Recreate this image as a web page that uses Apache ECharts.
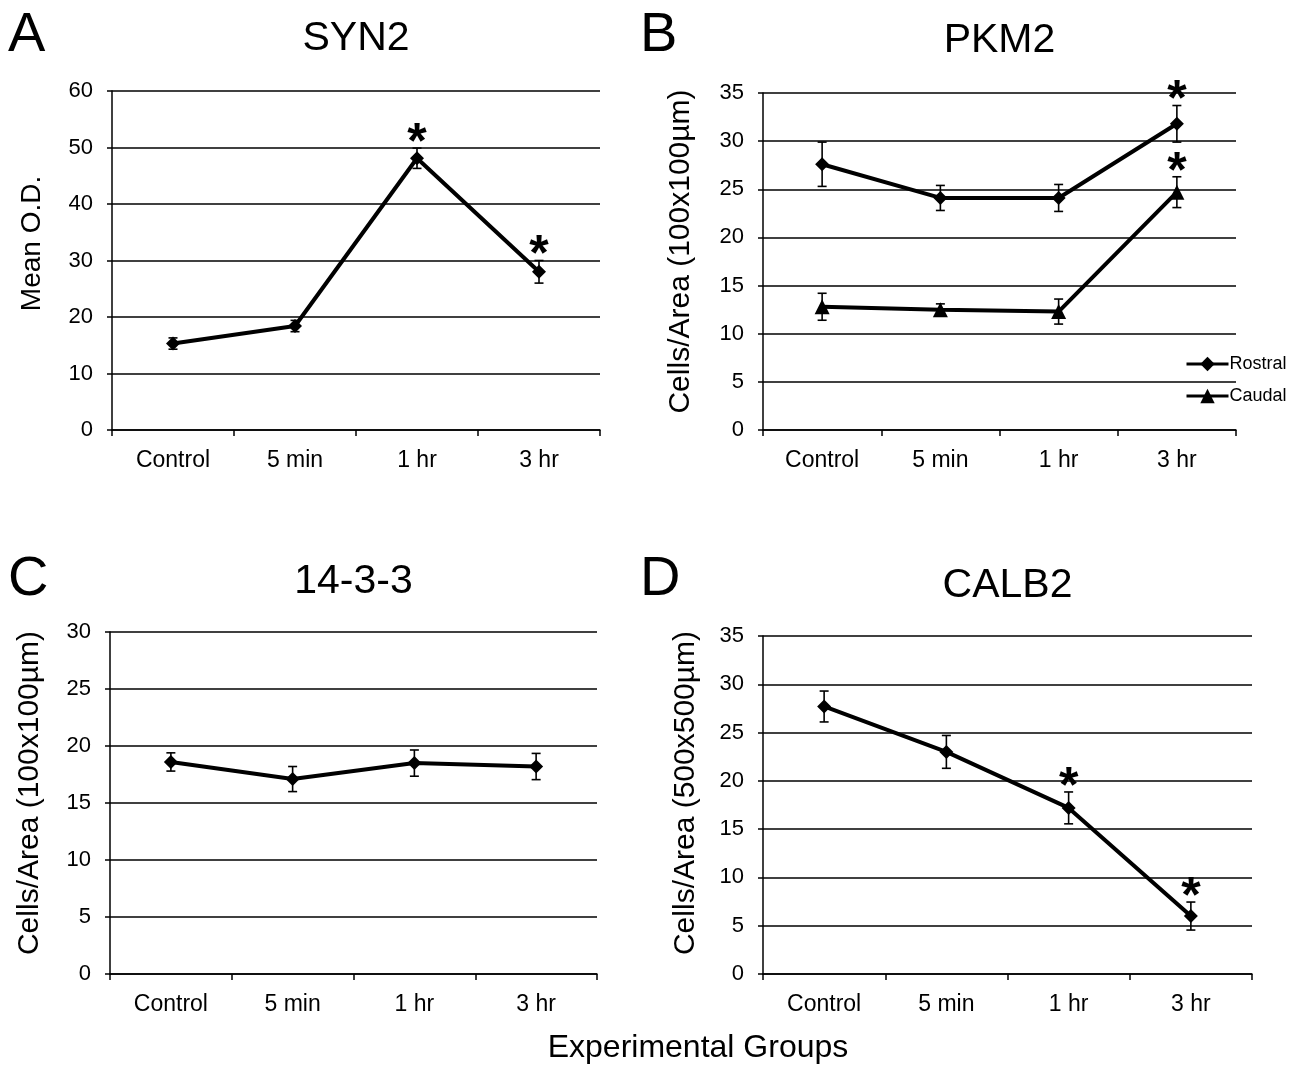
<!DOCTYPE html>
<html>
<head>
<meta charset="utf-8">
<script src="https://cdn.jsdelivr.net/npm/echarts@6/dist/echarts.min.js"></script>
<style>
html,body{margin:0;padding:0;background:#fff;}
#c{width:1298px;height:1065px;}
</style>
</head>
<body>
<div id="c"></div>
<script>
// ---- data ----
const categories = ['Control', '5 min', '1 hr', '3 hr'];

const syn2Mean = [15.3, 18.4, 48.1, 28.0];
const syn2Err  = [1.0, 1.0, 1.8, 2.0];
const syn2Sig  = [0, 0, 1, 1];

const pkm2RostralMean = [27.6, 24.1, 24.1, 31.8];
const pkm2RostralErr  = [2.3, 1.3, 1.4, 1.9];
const pkm2RostralSig  = [0, 0, 0, 1];

const pkm2CaudalMean = [12.8, 12.5, 12.3, 24.7];
const pkm2CaudalErr  = [1.4, 0.6, 1.3, 1.6];
const pkm2CaudalSig  = [0, 0, 0, 1];

const p1433Mean = [18.6, 17.1, 18.5, 18.2];
const p1433Err  = [0.8, 1.1, 1.15, 1.15];
const p1433Sig  = [0, 0, 0, 0];

const calb2Mean = [27.7, 23.0, 17.2, 6.0];
const calb2Err  = [1.6, 1.7, 1.65, 1.45];
const calb2Sig  = [0, 0, 1, 1];

const yTicksA = {min: 0, max: 60, interval: 10};
const yTicksB = {min: 0, max: 35, interval: 5};
const yTicksC = {min: 0, max: 30, interval: 5};
const yTicksD = {min: 0, max: 35, interval: 5};

const titles = ['SYN2', 'PKM2', '14-3-3', 'CALB2'];
const panelLetters = ['A', 'B', 'C', 'D'];
const yNames = ['Mean O.D.', 'Cells/Area (100x100\u00b5m)', 'Cells/Area (100x100\u00b5m)', 'Cells/Area (500x500\u00b5m)'];
const xName = 'Experimental Groups';

// ---- layout ----
const FONT = '"Liberation Sans", Arial, Helvetica, sans-serif';
const grids = [
  {left: 112, top: 91, width: 488, height: 339},
  {left: 763, top: 93, width: 473, height: 337},
  {left: 110, top: 632, width: 487, height: 342},
  {left: 763, top: 636, width: 489, height: 338}
];
const yTicks = [yTicksA, yTicksB, yTicksC, yTicksD];
const nameGaps = [66, 67, 65, 62];
const nameSizes = [28, 30, 30, 30];
const nameShiftPad = [34, 20, 20, 24];

const axisLineStyle = {color: '#000', width: 1.5};

const xAxes = grids.map((g, i) => ({
  type: 'category', gridIndex: i, data: categories, boundaryGap: true,
  axisLine: {show: true, lineStyle: axisLineStyle},
  axisTick: {show: true, length: 6, lineStyle: axisLineStyle},
  axisLabel: {color: '#000', fontSize: 23, fontFamily: FONT, margin: 19},
  splitLine: {show: false}
}));
const yAxes = grids.map((g, i) => ({
  type: 'value', gridIndex: i,
  min: yTicks[i].min, max: yTicks[i].max, interval: yTicks[i].interval,
  name: yNames[i], nameLocation: 'middle', nameGap: nameGaps[i], nameRotate: 90,
  nameTextStyle: {color: '#000', fontSize: nameSizes[i], fontFamily: FONT, padding: [0, 0, 0, nameShiftPad[i]]},
  axisLine: {show: true, lineStyle: axisLineStyle},
  axisTick: {show: true, length: 5, lineStyle: axisLineStyle},
  axisLabel: {color: '#000', fontSize: 22, fontFamily: FONT, margin: 19},
  splitLine: {show: true, lineStyle: {color: '#000', width: 1.5}}
}));

function errSeries(idx, mean, err, sig) {
  return {
    type: 'custom', xAxisIndex: idx, yAxisIndex: idx, z: 1, silent: true,
    clip: false,
    data: categories.map((c, i) => [i, mean[i], err[i], sig[i]]),
    encode: {x: 0, y: 1},
    renderItem: function (params, api) {
      const i = api.value(0), v = api.value(1), e = api.value(2), s = api.value(3);
      const t = api.coord([i, v + e]);
      const b = api.coord([i, v - e]);
      const hw = 4.5;
      const st = {stroke: '#000', lineWidth: 1.6};
      const children = [
        {type: 'line', shape: {x1: t[0], y1: t[1], x2: b[0], y2: b[1]}, style: st},
        {type: 'line', shape: {x1: t[0] - hw, y1: t[1], x2: t[0] + hw, y2: t[1]}, style: st},
        {type: 'line', shape: {x1: b[0] - hw, y1: b[1], x2: b[0] + hw, y2: b[1]}, style: st}
      ];
      if (s) {
        children.push({type: 'text', x: t[0], y: t[1] - 4,
          style: {text: '*', fill: '#000', font: 'bold 50px ' + FONT, textAlign: 'center', textVerticalAlign: 'middle'}});
      }
      return {type: 'group', children: children};
    }
  };
}

function lineSeries(idx, name, mean, symbol, size) {
  return {
    type: 'line', name: name, xAxisIndex: idx, yAxisIndex: idx, z: 3,
    data: mean, symbol: symbol, symbolSize: size,
    lineStyle: {color: '#000', width: 4},
    itemStyle: {color: '#000'},
    emphasis: {disabled: true},
    animation: false
  };
}

const series = [
  errSeries(0, syn2Mean, syn2Err, syn2Sig),
  lineSeries(0, 'SYN2', syn2Mean, 'diamond', 14),
  errSeries(1, pkm2RostralMean, pkm2RostralErr, pkm2RostralSig),
  errSeries(1, pkm2CaudalMean, pkm2CaudalErr, pkm2CaudalSig),
  lineSeries(1, 'Rostral', pkm2RostralMean, 'diamond', 14),
  lineSeries(1, 'Caudal', pkm2CaudalMean, 'triangle', 15),
  errSeries(2, p1433Mean, p1433Err, p1433Sig),
  lineSeries(2, '14-3-3', p1433Mean, 'diamond', 14),
  errSeries(3, calb2Mean, calb2Err, calb2Sig),
  lineSeries(3, 'CALB2', calb2Mean, 'diamond', 14)
];

const graphics = [];
grids.forEach((g, i) => {
  graphics.push({type: 'text', x: g.left + g.width / 2, y: g.top - (i < 2 ? 52 : 50),
    style: {text: titles[i], fill: '#000', font: '41px ' + FONT, textAlign: 'center', textVerticalAlign: 'middle'}});
});
const letterPos = [[8, 36], [640, 36], [8, 580], [640, 580]];
letterPos.forEach((p, i) => {
  graphics.push({type: 'text', x: p[0], y: p[1],
    style: {text: panelLetters[i], fill: '#000', font: '56px ' + FONT, textAlign: 'left', textVerticalAlign: 'middle'}});
});
graphics.push({type: 'text', x: 698, y: 1048,
  style: {text: xName, fill: '#000', font: '32px ' + FONT, textAlign: 'center', textVerticalAlign: 'middle'}});

const chart = echarts.init(document.getElementById('c'), null, {renderer: 'canvas'});
chart.setOption({
  backgroundColor: '#fff',
  animation: false,
  textStyle: {fontFamily: FONT},
  grid: grids.map(g => Object.assign({containLabel: false}, g)),
  xAxis: xAxes,
  yAxis: yAxes,
  legend: {
    data: ['Rostral', 'Caudal'], orient: 'vertical', left: 1180, top: 350,
    itemWidth: 42, itemHeight: 18, itemGap: 14, padding: 5,
    lineStyle: {width: 3, color: '#000'},
    textStyle: {color: '#000', fontSize: 18, fontFamily: FONT, padding: [0, 0, 0, -4]},
    selectedMode: false
  },
  tooltip: {show: false},
  graphic: graphics,
  series: series
});
</script>
</body>
</html>
